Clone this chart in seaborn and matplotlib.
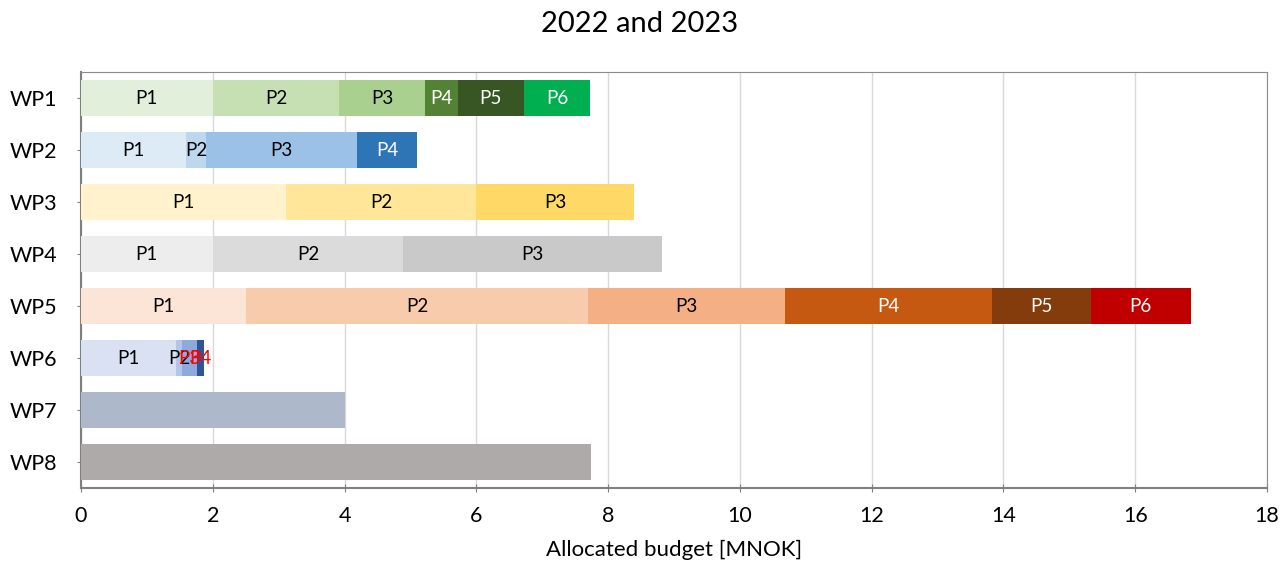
import matplotlib
matplotlib.use("Agg")
import matplotlib.pyplot as plt
import seaborn as sns
import pandas as pd
import numpy as np

# ---- data ----
wps = ["WP1", "WP2", "WP3", "WP4", "WP5", "WP6", "WP7", "WP8"]
wp1 = [2.00, 1.92, 1.30, 0.50, 1.00, 1.01]
wp2 = [1.59, 0.31, 2.29, 0.91]
wp3 = [3.11, 2.89, 2.39]
wp4 = [2.00, 2.89, 3.93]
wp5 = [2.51, 5.18, 3.00, 3.13, 1.51, 1.51]
wp6 = [1.44, 0.10, 0.22, 0.10]
wp7 = [4.01]
wp8 = [7.74]
segments = [wp1, wp2, wp3, wp4, wp5, wp6, wp7, wp8]

colors = [
    ["#E2EFDA", "#C6E0B4", "#A9D08E", "#548235", "#375623", "#00B050"],
    ["#DDEBF7", "#BDD7EE", "#9BC2E6", "#2E75B6"],
    ["#FFF2CC", "#FFE699", "#FFD966"],
    ["#EDEDED", "#DBDBDB", "#C9C9C9"],
    ["#FCE4D6", "#F8CBAD", "#F4B084", "#C65911", "#843C0C", "#C00000"],
    ["#D9E1F2", "#B4C6E7", "#8EA9DB", "#305496"],
    ["#ADB9CA"],
    ["#AEAAAA"],
]
label_colors = [
    ["black", "black", "black", "white", "white", "white"],
    ["black", "black", "black", "white"],
    ["black", "black", "black"],
    ["black", "black", "black"],
    ["black", "black", "black", "white", "white", "white"],
    ["black", "black", "#FF0000", "#FF0000"],
    [None],
    [None],
]

rows = []
for wp, vals, cols, lcols in zip(wps, segments, colors, label_colors):
    cum = np.cumsum(vals)
    for k, (v, e, c, lc) in enumerate(zip(vals, cum, cols, lcols)):
        rows.append(dict(wp=wp, seg=k, value=v, end=e, start=e - v, color=c, lcolor=lc))
df = pd.DataFrame(rows)

plt.rcParams["font.family"] = ["Lato", "DejaVu Sans"]
fig = plt.figure(figsize=(12.8, 5.64), dpi=100)
ax = fig.add_axes([81 / 1280, 1 - 488 / 564, (1267 - 81) / 1280, (488 - 72) / 564])

for k in sorted(df["seg"].unique(), reverse=True):
    d = df[df["seg"] == k]
    pal = dict(zip(d["wp"], d["color"]))
    sns.barplot(data=d, x="end", y="wp", order=wps, hue="wp", hue_order=list(d["wp"]),
                palette=pal, orient="h", width=0.68, saturation=1, legend=False,
                linewidth=0, ax=ax, zorder=3)

ypos = {wp: i for i, wp in enumerate(wps)}
for _, r in df.iterrows():
    if r["lcolor"] is None:
        continue
    ax.text((r["start"] + r["end"]) / 2, ypos[r["wp"]], f"P{r['seg'] + 1}",
            ha="center", va="center", fontsize=13.5, color=r["lcolor"], zorder=5)

ax.set_xlim(0, 18)
ax.set_ylim(7.5, -0.5)
ax.set_xticks(range(0, 19, 2))
ax.grid(axis="x", color="#D9D9D9", linewidth=1, zorder=0)
ax.grid(axis="y", visible=False)
ax.set_axisbelow(True)
ax.tick_params(axis="both", direction="inout", length=6, color="#7F7F7F", labelsize=15.5)
ax.tick_params(axis="x", pad=10)
ax.tick_params(axis="y", pad=14)
for s in ["top", "right"]:
    ax.spines[s].set_color("#8C8C8C")
for s in ["left", "bottom"]:
    ax.spines[s].set_color("#7F7F7F")
    ax.spines[s].set_linewidth(1.5)
ax.set_ylabel("")
ax.set_xlabel("Allocated budget [MNOK]", fontsize=16, labelpad=10)
fig.text(0.5, 1 - 24 / 564, "2022 and 2023", ha="center", va="center", fontsize=21)

fig.savefig("out.png", dpi=100)
